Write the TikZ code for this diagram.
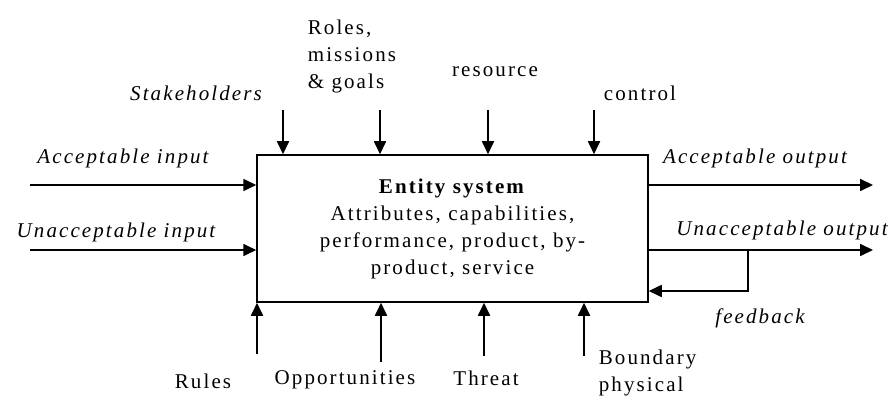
\documentclass[tikz,border=0pt]{standalone}
\usepackage{fontspec}
\setmainfont{Liberation Serif}[LetterSpace=10]
\usetikzlibrary{arrows.meta}

\begin{document}
\begin{tikzpicture}[x=1pt, y=-1pt, >={Triangle[length=13pt,width=12pt]}, line width=1.7pt]
          \tikzstyle{lbl}=[font=\fontsize{21}{27}\selectfont, inner sep=0pt]
          \tikzstyle{ilbl}=[font=\fontsize{21}{27}\selectfont\itshape, inner sep=0pt]
          \tikzstyle{entity}=[draw=black, line width=1.5pt, minimum width=391pt, minimum height=147pt, align=center, inner sep=0pt]

          \useasboundingbox (0,0) rectangle (896,403);

          \node[lbl, entity] (E) at (452.5,228.5) {\textbf{Entity system}\\Attributes, capabilities,\\performance, product, by-\\product, service};

          % labels
          \node[ilbl] (ain) at (123,158) {Acceptable input};
          \node[ilbl] (uin) at (116,232) {Unacceptable input};
          \node[ilbl] (stk) at (196,93) {Stakeholders};
          \node[lbl, align=left, anchor=west] (rol) at (307,56) {Roles,\\missions\\\& goals};
          \node[lbl] (res) at (495,72) {resource};
          \node[lbl] (ctl) at (640,93) {control};
          \node[ilbl] (aout) at (755,158) {Acceptable output};
          \node[ilbl] (uout) at (782,230) {Unacceptable output};
          \node[ilbl] (fbk) at (760,318) {feedback};
          \node[lbl] (rul) at (203,381) {Rules};
          \node[lbl] (opp) at (345,380) {Opportunities};
          \node[lbl] (thr) at (486,378) {Threat};
          \node[lbl, align=left, anchor=west] (bnd) at (598,373) {Boundary\\physical};

          % arrow ends
          \coordinate (ain0) at (30,185);
          \coordinate (uin0) at (30,250);
          \coordinate (stk0) at (283,110);
          \coordinate (rol0) at (380,110);
          \coordinate (res0) at (488,110);
          \coordinate (ctl0) at (594,110);
          \coordinate (aout1) at (873,185);
          \coordinate (uout1) at (873,250);
          \coordinate (fb0) at (748,250);
          \coordinate (fb1) at (748,291);
          \coordinate (rul0) at (257,354);
          \coordinate (opp0) at (381,362);
          \coordinate (thr0) at (484,356);
          \coordinate (bnd0) at (584,356);

          \draw[->] (ain0) -- (ain0 -| E.west);
          \draw[->] (uin0) -- (uin0 -| E.west);
          \draw[->] (stk0) -- (stk0 |- E.north);
          \draw[->] (rol0) -- (rol0 |- E.north);
          \draw[->] (res0) -- (res0 |- E.north);
          \draw[->] (ctl0) -- (ctl0 |- E.north);
          \draw[->] (aout1 -| E.east) -- (aout1);
          \draw[->] (uout1 -| E.east) -- (uout1);
          \draw[->] (fb0) -- (fb1) -- (fb1 -| E.east);
          \draw[->] (rul0) -- (rul0 |- E.south);
          \draw[->] (opp0) -- (opp0 |- E.south);
          \draw[->] (thr0) -- (thr0 |- E.south);
          \draw[->] (bnd0) -- (bnd0 |- E.south);

        \end{tikzpicture}
\end{document}
